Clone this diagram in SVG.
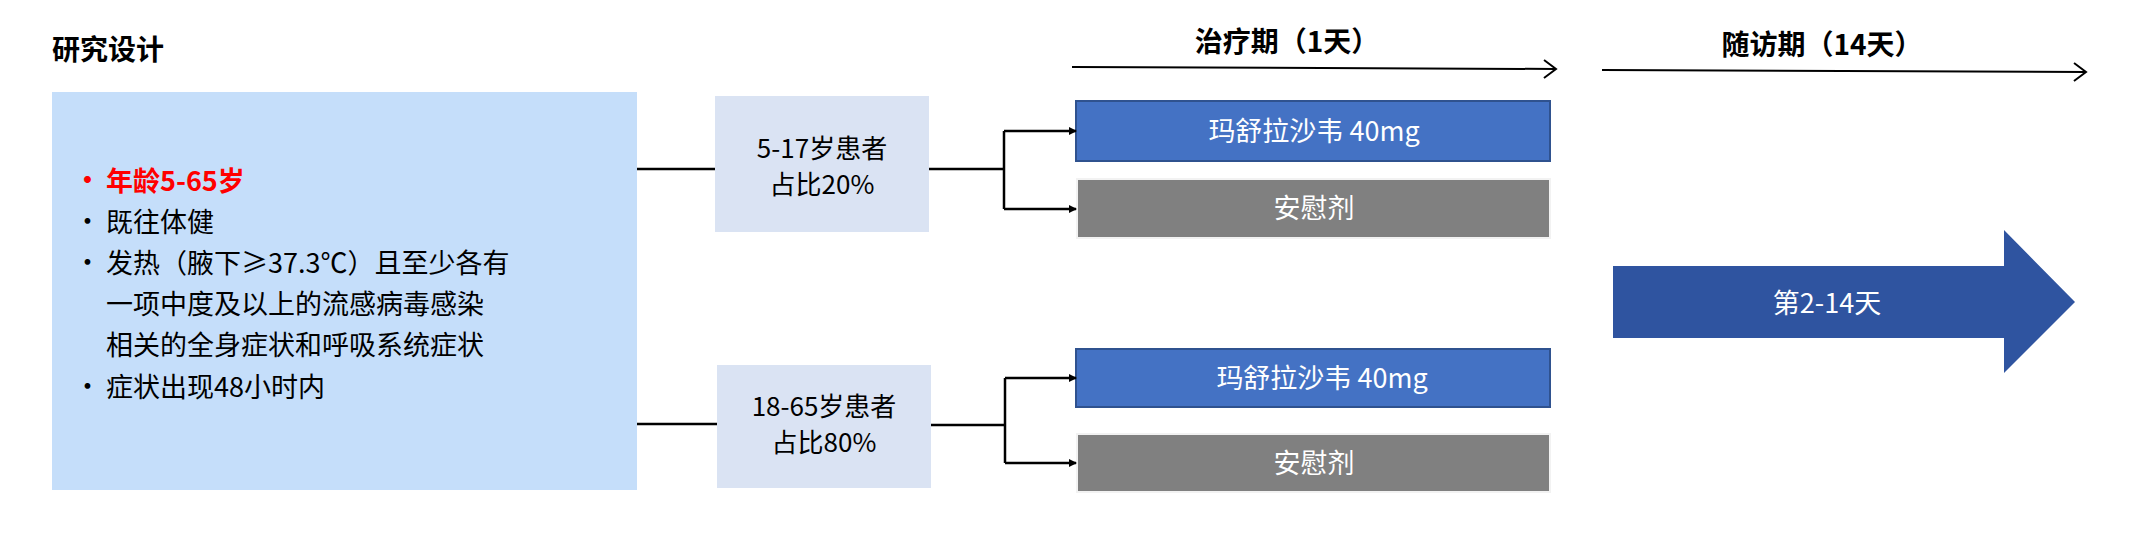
<svg xmlns="http://www.w3.org/2000/svg" width="2139" height="539" viewBox="0 0 2139 539">
<style>
text{font-family:"Microsoft YaHei","Noto Sans CJK SC",sans-serif}
.h{font-size:28px;font-weight:bold;fill:#000}
.b{font-size:27px;fill:#000}
.w{font-size:27px;fill:#fff;text-anchor:middle}
.g{font-size:26px;fill:#000;text-anchor:middle}
.ln{stroke:#000;stroke-width:2.5;fill:none}
.tl{stroke:#000;stroke-width:2;fill:none}
.blue{fill:#4472C4;stroke:#2F528F;stroke-width:2}
.gray{fill:#808080;stroke:#f2f2f2;stroke-width:2}
</style>
<defs>
<marker id="a" markerWidth="8" markerHeight="8" refX="7" refY="4" orient="auto" markerUnits="userSpaceOnUse"><path d="M0,0L8,4L0,8z" fill="#000"/></marker>
<marker id="o" markerWidth="16" markerHeight="20" refX="14" refY="10" orient="auto" markerUnits="userSpaceOnUse"><path d="M2,1L14,10L2,19" fill="none" stroke="#000" stroke-width="2"/></marker>
</defs>
<rect width="2139" height="539" fill="#fff"/>
<text class="h" x="52" y="60">研究设计</text>
<g id="timeline1"><text class="h" x="1287" y="52" text-anchor="middle">治疗期（1天）</text></g>
<g id="timeline2"><text class="h" x="1822" y="55" text-anchor="middle">随访期（14天）</text></g>
<g id="criteria">
<rect x="52" y="92" width="585" height="398" fill="#C5DEFA"/>
<text class="b" x="74" y="190" fill="#f00" style="fill:#f00;font-weight:bold">•</text>
<text class="b" x="106" y="191" style="fill:#f00;font-weight:bold">年龄5-65岁</text>
<text class="b" x="74" y="231">•</text><text class="b" x="106" y="232">既往体健</text>
<text class="b" x="74" y="272">•</text><text class="b" x="106" y="273">发热（腋下≥37.3℃）且至少各有</text>
<text class="b" x="106" y="314">一项中度及以上的流感病毒感染</text>
<text class="b" x="106" y="355">相关的全身症状和呼吸系统症状</text>
<text class="b" x="74" y="396">•</text><text class="b" x="106" y="397">症状出现48小时内</text>
</g>
<g id="group1">
<rect x="715" y="96" width="214" height="136" fill="#DAE3F3"/>
<text class="g" x="822" y="158">5-17岁患者</text>
<text class="g" x="822" y="194">占比20%</text>
</g>
<g id="group2">
<rect x="717" y="365" width="214" height="123" fill="#DAE3F3"/>
<text class="g" x="824" y="416">18-65岁患者</text>
<text class="g" x="824" y="452">占比80%</text>
</g>
<g id="drug1"><rect class="blue" x="1076" y="101" width="474" height="60"/><text class="w" x="1314" y="141">玛舒拉沙韦 40mg</text></g>
<g id="placebo1"><rect class="gray" x="1077" y="179" width="473" height="59"/><text class="w" x="1314" y="218">安慰剂</text></g>
<g id="drug2"><rect class="blue" x="1076" y="349" width="474" height="58"/><text class="w" x="1322" y="388">玛舒拉沙韦 40mg</text></g>
<g id="placebo2"><rect class="gray" x="1077" y="434" width="473" height="58"/><text class="w" x="1314" y="473">安慰剂</text></g>
<g id="followup"><path d="M1613,266H2004V230L2075,302L2004,373V338H1613Z" fill="#2F54A0"/><text class="w" x="1827" y="313">第2-14天</text></g>
<g id="connectors">
<path class="tl" d="M1072,67L1556,69" marker-end="url(#o)"/>
<path class="tl" d="M1602,70L2086,72" marker-end="url(#o)"/>
<path class="ln" d="M637,169H715"/>
<path class="ln" d="M929,169H1004"/>
<path class="ln" d="M1004,131V209"/>
<path class="ln" d="M1004,131H1076" marker-end="url(#a)"/>
<path class="ln" d="M1004,209H1076" marker-end="url(#a)"/>
<path class="ln" d="M637,424H717"/>
<path class="ln" d="M931,425H1005"/>
<path class="ln" d="M1005,378V463"/>
<path class="ln" d="M1005,378H1076" marker-end="url(#a)"/>
<path class="ln" d="M1005,463H1076" marker-end="url(#a)"/>
</g>
</svg>
